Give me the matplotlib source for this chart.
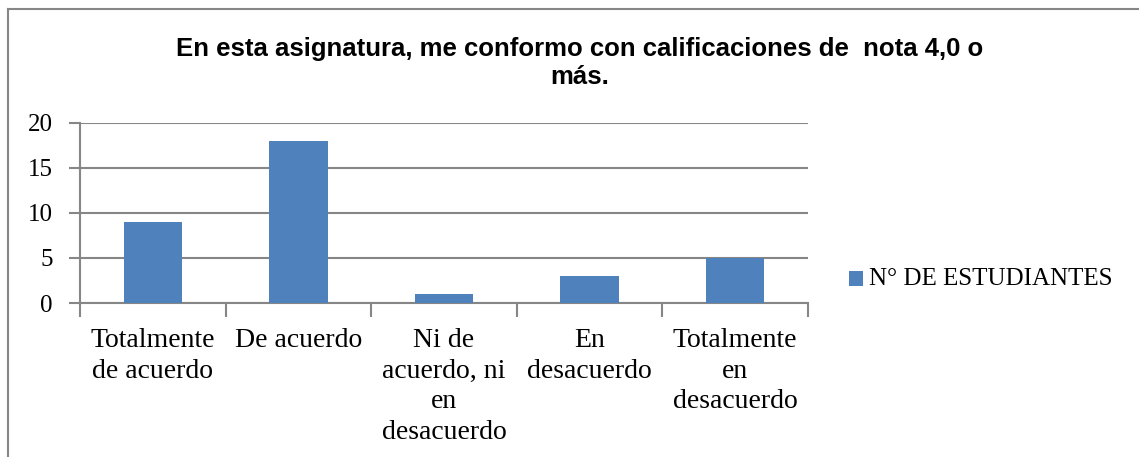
import matplotlib
matplotlib.use("Agg")
import matplotlib.pyplot as plt
from matplotlib.patches import Rectangle
from matplotlib.lines import Line2D

categories = ["Totalmente\nde acuerdo", "De acuerdo", "Ni de\nacuerdo, ni\nen\ndesacuerdo",
              "En\ndesacuerdo", "Totalmente\nen\ndesacuerdo"]
values = [9, 18, 1, 3, 5]
yticks = [0, 5, 10, 15, 20]
series_name = "N° DE ESTUDIANTES"
title = "En esta asignatura, me conformo con calificaciones de  nota 4,0 o\nmás."

W, H = 1139, 457
fig = plt.figure(figsize=(W / 100, H / 100), dpi=100)
fig.patch.set_facecolor("white")

serif = ["Liberation Serif", "DejaVu Serif"]
grey = "#868686"
bar_color = "#4F81BD"

ax = fig.add_axes([80 / W, 1 - 303 / H, (808 - 80) / W, (303 - 123) / H])
x = list(range(len(values)))
ax.bar(x, values, width=0.4, color=bar_color, zorder=3)
ax.set_xlim(-0.5, len(values) - 0.5)
ax.set_ylim(0, 20)
ax.set_yticks(yticks)
ax.set_yticklabels([str(v) for v in yticks], fontfamily=serif, fontsize=18)
ax.yaxis.grid(True, color=grey, linewidth=1.5, zorder=0)
ax.set_axisbelow(True)

for s in ["top", "right"]:
    ax.spines[s].set_visible(False)
for s in ["left", "bottom"]:
    ax.spines[s].set_color(grey)
    ax.spines[s].set_linewidth(1.5)

ax.tick_params(axis="y", length=8, width=1.5, color=grey, pad=11.5)
ax.set_xticks([i - 0.5 for i in range(len(values) + 1)], minor=False)
ax.set_xticklabels([""] * (len(values) + 1))
ax.tick_params(axis="x", which="major", length=10, width=1.5, color=grey)
ax.set_xticks(x, minor=True)
ax.set_xticklabels(categories, minor=True, fontfamily=serif, fontsize=20,
                   linespacing=1.3, va="top")
ax.tick_params(axis="x", which="minor", length=0, pad=18)

fig.text(580 / W, 1 - 63 / H, title, ha="center", va="center", fontsize=18.5,
         fontweight="bold", fontfamily=["Liberation Sans", "DejaVu Sans"], linespacing=1.2)

# legend
fig.patches.append(Rectangle((849 / W, 1 - 286 / H), 14 / W, 15 / H, transform=fig.transFigure,
                             facecolor=bar_color, edgecolor="none"))
fig.text(869 / W, 1 - 279 / H, series_name, ha="left", va="center", fontsize=18,
         fontfamily=serif)

# chart border (top and left only visible)
fig.lines.append(Line2D([7.5 / W, 7.5 / W], [0, 1 - 8.5 / H], transform=fig.transFigure,
                        color=grey, linewidth=1.5))
fig.lines.append(Line2D([7.5 / W, 1], [1 - 8.5 / H, 1 - 8.5 / H], transform=fig.transFigure,
                        color=grey, linewidth=1.5))

fig.savefig("out.png", dpi=100, facecolor="white")
